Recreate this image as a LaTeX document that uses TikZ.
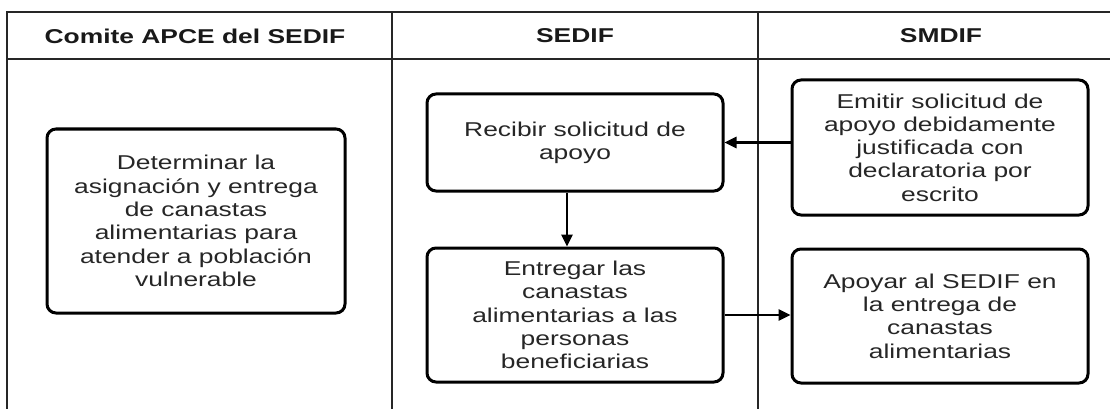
\documentclass[tikz,border=0pt]{standalone}
\usepackage{fontspec}
\setmainfont[FakeStretch=1.32]{Liberation Sans}
\usetikzlibrary{arrows.meta,positioning}

\begin{document}
\begin{tikzpicture}[x=1pt,y=-1pt,
		lane/.style={draw=black!85,line width=1.2pt},
		lanehead/.style={font=\fontsize{20}{23}\selectfont\bfseries,text=black!90},
		actbox/.style={draw,line width=3pt,rounded corners=9pt,align=center,inner sep=0pt,
			minimum width=296pt,text=black!85,font=\fontsize{20}{23.3}\selectfont},
		flow/.style={line width=2.6pt,-{Triangle[length=12pt,width=11pt]}}]
	\useasboundingbox (0,0) rectangle (1110,409);
	
	% swimlanes
	\draw [lane] (1110,12) -- (7,12) -- (7,409);
	\draw [lane] (7,59) -- (1110,59);
	\draw [lane] (392,12) -- (392,409);
	\draw [lane] (758,12) -- (758,409);
	
	\node [lanehead] (headAPCE) at (195,36) {Comite APCE del SEDIF};
	\node [lanehead] (headSEDIF) at (575,36) {SEDIF};
	\node [lanehead] (headSMDIF) at (941,36) {SMDIF};
	
	% activities
	\begin{scope}[every node/.style={actbox}]
		\node [minimum width=298pt,minimum height=184pt] (determinar) at (196,221)
			{Determinar la\\asignación y entrega\\de canastas\\alimentarias para\\atender a población\\vulnerable};
		\node [minimum height=97pt] (recibir) at (575,142.5) {Recibir solicitud de\\apoyo};
		\node [minimum height=135pt] (emitir) at (940,147.5)
			{Emitir solicitud de\\apoyo debidamente\\justificada con\\declaratoria por\\escrito};
		\node [minimum height=134pt] (entregar) at (575,315)
			{Entregar las\\canastas\\alimentarias a las\\personas\\beneficiarias};
		\node [minimum height=134pt] (apoyar) at (940,316)
			{Apoyar al SEDIF en\\la entrega de\\canastas\\alimentarias};
	\end{scope}
	
	\draw [flow] (emitir.west |- recibir.east) -- (recibir.east);
	\draw [flow] ([xshift=-8pt]recibir.south) -- ([xshift=-8pt]entregar.north);
	\draw [flow] (entregar.east) -- (apoyar.west |- entregar.east);
\end{tikzpicture}
\end{document}
